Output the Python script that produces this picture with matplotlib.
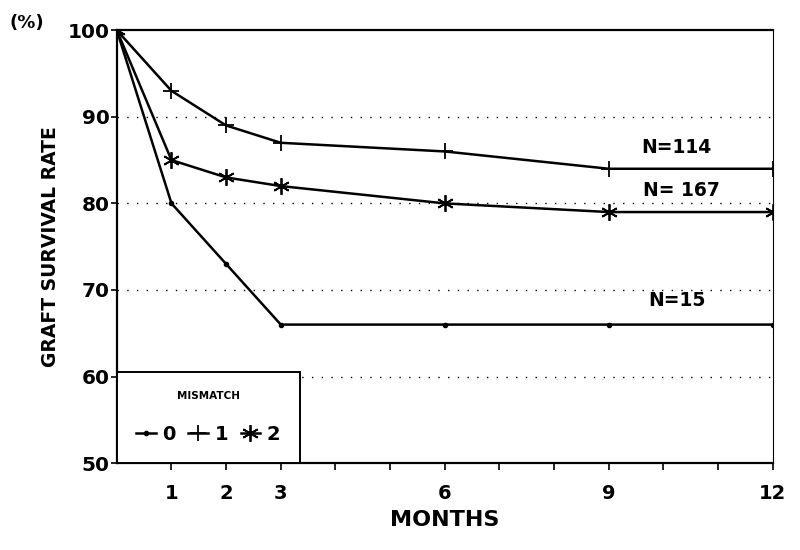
import matplotlib
matplotlib.use("Agg")
import matplotlib.pyplot as plt

months = [0, 1, 2, 3, 6, 9, 12]
mismatch0 = [100, 80, 73, 66, 66, 66, 66]
mismatch1 = [100, 93, 89, 87, 86, 84, 84]
mismatch2 = [100, 85, 83, 82, 80, 79, 79]
series_labels = ["0", "1", "2"]
n_labels = ["N=15", "N=114", "N= 167"]
y_ticks = [50, 60, 70, 80, 90, 100]
x_minor = list(range(1, 13))
x_labeled = [1, 2, 3, 6, 9, 12]

plt.rcParams['font.family'] = ['DejaVu Sans']
plt.rcParams['font.weight'] = 'bold'

fig = plt.figure(figsize=(8, 5.5), dpi=100)
ax = fig.add_axes([0.146, 0.158, 0.82, 0.787])

ax.plot(months, mismatch0, color='black', lw=1.8, marker='o', ms=3, label=series_labels[0])
ax.plot(months, mismatch1, color='black', lw=1.8, marker='+', ms=11, mew=1.3, label=series_labels[1])
ax.plot(months, mismatch2, color='black', lw=1.8, marker=(6, 2, 0), ms=12, mew=1.3, label=series_labels[2])

ax.set_xlim(0, 12)
ax.set_ylim(50, 100)

# gridlines
for y in [60, 70, 80, 90]:
    ax.axhline(y, color='black', lw=1.0, ls=(0, (1, 6)), zorder=0)

ax.set_yticks(y_ticks)
ax.set_yticklabels([str(v) for v in y_ticks], fontsize=14.5, fontweight='bold')
ax.set_xticks(x_minor)
ax.set_xticklabels([str(v) if v in x_labeled else "" for v in x_minor], fontsize=14, fontweight='bold')
ax.tick_params(axis='x', direction='out', length=5, width=1.2, pad=10)
ax.tick_params(axis='y', direction='out', length=4, width=1.2, pad=1)

for s in ['left', 'bottom', 'top']:
    ax.spines[s].set_linewidth(1.6)
ax.spines['right'].set_linewidth(0.8)

ax.set_xlabel("MONTHS", fontsize=16, fontweight='bold', labelpad=5)
ax.set_ylabel("GRAFT SURVIVAL RATE", fontsize=13.5, fontweight='bold', labelpad=6)
fig.text(0.012, 0.95, "(%)", fontsize=13, fontweight='bold')

ax.text(10.24, 86.5, n_labels[1], fontsize=13.5, fontweight='bold', ha='center', va='center')
ax.text(10.33, 81.5, n_labels[2], fontsize=13.5, fontweight='bold', ha='center', va='center')
ax.text(10.24, 68.8, n_labels[0], fontsize=13.5, fontweight='bold', ha='center', va='center')

leg = ax.legend(loc='lower left', bbox_to_anchor=(0, 0, 0.279, 0.22), mode='expand',
                borderaxespad=0, ncol=3, title="MISMATCH", fontsize=14,
                handlelength=1.0, handletextpad=0.35, columnspacing=0.8,
                borderpad=1.0,
                fancybox=False, edgecolor='black', framealpha=1)
leg.get_title().set_fontsize(7.5)
leg.get_title().set_fontweight('bold')
leg.get_frame().set_linewidth(1.4)
leg._legend_box.sep = 17

fig.savefig("out.png", dpi=100)
